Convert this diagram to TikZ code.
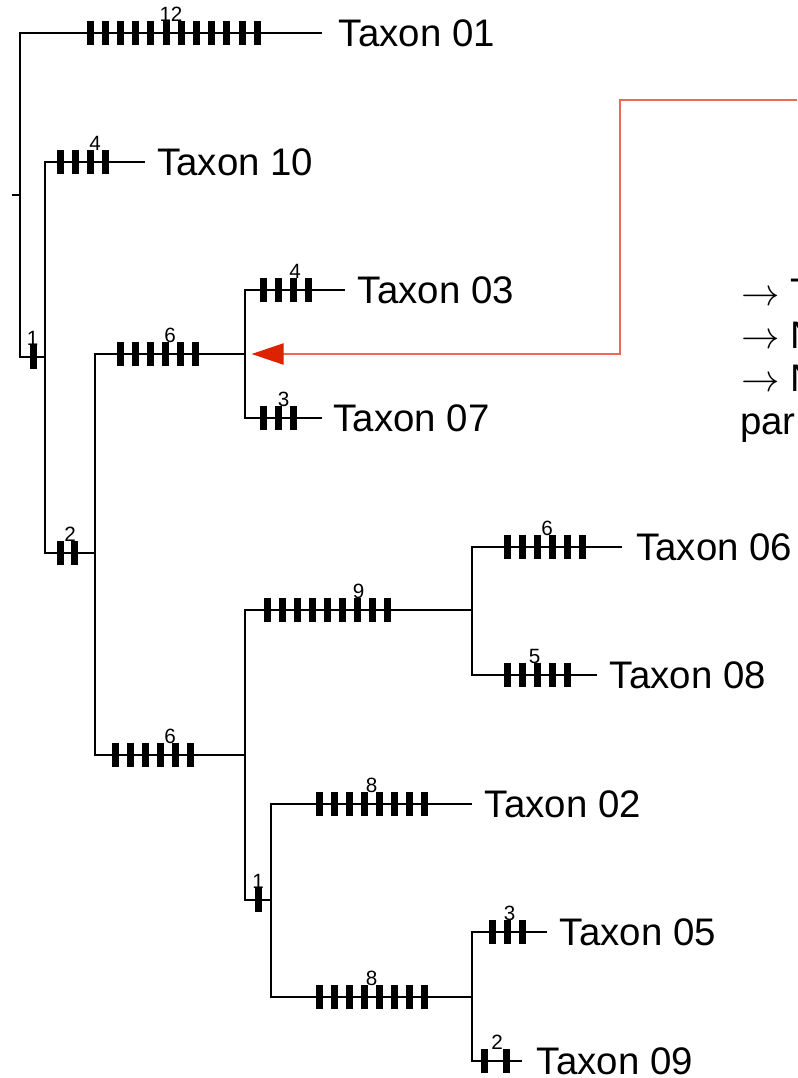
\RequirePackage{fix-cm}
\documentclass[tikz,border=0pt]{standalone}
\usepackage{fontspec}
\setmainfont{Liberation Sans}
\usepackage{xcolor}
\usepackage{tikz}
\usetikzlibrary{arrows.meta, positioning}
\definecolor{pointerred}{HTML}{DD2200}
\definecolor{pointerline}{HTML}{EA6A55}
\tikzset{
  branch/.style={line width=1.5pt, color=black},
  taxon/.style={inner sep=0pt, font=\fontsize{28.8}{30}\selectfont},
  nchanges/.style={pos=0.75, anchor=base, inner sep=0pt, yshift=9pt,
    font=\fontsize{15.5}{16}\selectfont},
  notetext/.style={anchor=base west, inner sep=0pt,
    font=\fontsize{28.8}{30}\selectfont},
  pointer/.style={-{Triangle[length=24pt, width=16pt, color=pointerred]},
    line width=0.9pt, color=pointerline, shorten >=5pt},
}
% y, first x, count, gap
\newcommand{\ticks}[4]{%
  \foreach \k in {1,...,#3}
    \fill ({#2+#4*(\k-1)-3.5},{#1-12}) rectangle ++(7,24);
}

\begin{document}
\begin{tikzpicture}[x=0.75pt, y=-0.75pt]

  \useasboundingbox (0,0) rectangle (797,1078);
  \clip (0,0) rectangle (797,1078);

  % internal nodes
  \coordinate (stub) at (12,195);
  \coordinate (root) at (20,195);
  \coordinate (nA) at (45,357);
  \coordinate (nB) at (95,553);
  \coordinate (nC) at (245,354);
  \coordinate (nD) at (245,755);
  \coordinate (nE) at (472,610);
  \coordinate (nF) at (271,900);
  \coordinate (nG) at (472,997);

  % tips and their names
  \coordinate (t01) at (322,33);
  \coordinate (t10) at (145,162);
  \coordinate (t03) at (345,290);
  \coordinate (t07) at (322,418);
  \coordinate (t06) at (622,547);
  \coordinate (t08) at (597,675);
  \coordinate (t02) at (472,804);
  \coordinate (t05) at (547,932);
  \coordinate (t09) at (522,1061);

  \node[taxon, right=12.5pt of t01] (l01) {Taxon 01};
  \node[taxon, right=9pt of t10] (l10) {Taxon 10};
  \node[taxon, right=9.5pt of t03] (l03) {Taxon 03};
  \node[taxon, right=8.5pt of t07] (l07) {Taxon 07};
  \node[taxon, right=10.5pt of t06] (l06) {Taxon 06};
  \node[taxon, right=9.5pt of t08] (l08) {Taxon 08};
  \node[taxon, right=9.5pt of t02] (l02) {Taxon 02};
  \node[taxon, right=9.5pt of t05] (l05) {Taxon 05};
  \node[taxon, right=11pt of t09] (l09) {Taxon 09};

  % branches
  \draw[line width=1pt] (stub) -- (root);
  \draw[branch] (root) |- node[nchanges] {12} (t01);
  \draw[branch] (root) |- node[nchanges] {1} (nA);
  \draw[branch] (nA) |- node[nchanges] {4} (t10);
  \draw[branch] (nA) |- node[nchanges] {2} (nB);
  \draw[branch] (nB) |- node[nchanges] {6} (nC);
  \draw[branch] (nB) |- node[nchanges] {6} (nD);
  \draw[branch] (nC) |- node[nchanges] {4} (t03);
  \draw[branch] (nC) |- node[nchanges] {3} (t07);
  \draw[branch] (nD) |- node[nchanges] {9} (nE);
  \draw[branch] (nD) |- node[nchanges] {1} (nF);
  \draw[branch] (nE) |- node[nchanges] {6} (t06);
  \draw[branch] (nE) |- node[nchanges] {5} (t08);
  \draw[branch] (nF) |- node[nchanges] {8} (t02);
  \draw[branch] (nF) |- node[nchanges] {8} (nG);
  \draw[branch] (nG) |- node[nchanges] {3} (t05);
  \draw[branch] (nG) |- node[nchanges] {2} (t09);

  % character changes
  \ticks{33}{90}{12}{15.2}
  \ticks{357}{33}{1}{15}
  \ticks{162}{60}{4}{15}
  \ticks{553}{60}{2}{14}
  \ticks{354}{120}{6}{15}
  \ticks{755}{115}{6}{15}
  \ticks{290}{263}{4}{15}
  \ticks{418}{263}{3}{15}
  \ticks{610}{267}{9}{15}
  \ticks{900}{258}{1}{15}
  \ticks{547}{507}{6}{15}
  \ticks{675}{507}{5}{15}
  \ticks{804}{319}{8}{15}
  \ticks{997}{319}{8}{15}
  \ticks{932}{492}{3}{15}
  \ticks{1061}{484}{2}{22}

  % pointer from the right
  \coordinate (ptrin) at (800,100);
  \coordinate (ptrbend) at (620,354);
  \draw[pointer] (ptrin) -| (ptrbend) -- (nC);

  \node[notetext] (note1) at (741,305) {$\rightarrow$ T};
  \node[notetext] (note2) at (741,348) {$\rightarrow$ N};
  \node[notetext] (note3) at (741,391) {$\rightarrow$ N};
  \node[notetext] (note4) at (740,434) {par};

\end{tikzpicture}
\end{document}
